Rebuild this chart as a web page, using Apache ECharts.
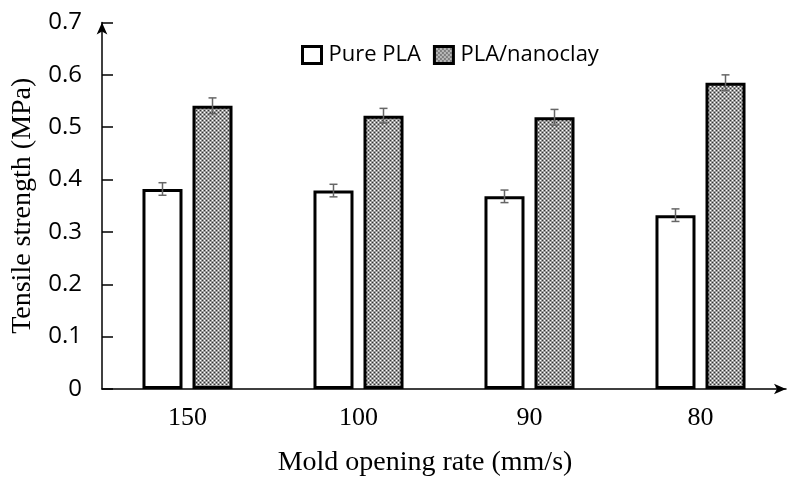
<!DOCTYPE html>
<html>
<head>
<meta charset="utf-8">
<script src="https://cdn.jsdelivr.net/npm/echarts@6/dist/echarts.min.js"></script>
<style>html,body{margin:0;padding:0;background:#fff;}#c{width:795px;height:483px;}</style>
</head>
<body>
<div id="c"></div>
<script>
var categories = ['150', '100', '90', '80'];
var pureValues = [0.382, 0.379, 0.368, 0.332];
var nanoValues = [0.541, 0.522, 0.519, 0.585];
var pureErr = [0.012, 0.012, 0.012, 0.012];
var nanoErr = [0.015, 0.014, 0.015, 0.015];
var seriesNames = ['Pure PLA', 'PLA/nanoclay'];
var yTicks = [0, 0.1, 0.2, 0.3, 0.4, 0.5, 0.6, 0.7];

function makePattern() {
  var c = document.createElement('canvas');
  c.width = 4; c.height = 4;
  var ctx = c.getContext('2d');
  ctx.fillStyle = '#9c9c9c';
  ctx.fillRect(0, 0, 4, 4);
  ctx.fillStyle = '#ffffff';
  ctx.fillRect(0, 0, 1, 1);
  ctx.fillRect(2, 2, 1, 1);
  ctx.fillStyle = '#333333';
  ctx.fillRect(2, 0, 1, 1);
  ctx.fillRect(0, 2, 1, 1);
  return c;
}
var pattern = { image: makePattern(), repeat: 'repeat' };

var BAR_W = 0.234, BAR_GAP = 0.25;
function errSeries(vals, errs, sign) {
  var data = vals.map(function (v, i) { return [i, v, errs[i]]; });
  return {
    type: 'custom',
    silent: true,
    z: 10,
    data: data,
    renderItem: function (params, api) {
      var i = api.value(0), v = api.value(1), e = api.value(2);
      var band = api.size([1, 0])[0];
      var w = band * BAR_W;
      var off = sign * (w + w * BAR_GAP) / 2;
      var top = api.coord([i, v + e]);
      var bot = api.coord([i, v - e]);
      var x = top[0] + off;
      var cap = 4;
      var st = { stroke: '#666666', lineWidth: 1.5 };
      return {
        type: 'group',
        children: [
          { type: 'line', shape: { x1: x, y1: top[1], x2: x, y2: bot[1] }, style: st },
          { type: 'line', shape: { x1: x - cap, y1: top[1], x2: x + cap, y2: top[1] }, style: st },
          { type: 'line', shape: { x1: x - cap, y1: bot[1], x2: x + cap, y2: bot[1] }, style: st }
        ]
      };
    }
  };
}

var chart = echarts.init(document.getElementById('c'));
chart.setOption({
  animation: false,
  backgroundColor: '#ffffff',
  grid: { left: 102, right: 9, top: 22.5, bottom: 94, containLabel: false, outerBoundsMode: 'none' },
  legend: {
    data: seriesNames,
    left: 296, top: 39,
    icon: 'rect',
    itemWidth: 19, itemHeight: 17,
    itemGap: 12,
    itemStyle: { borderWidth: 3, borderColor: '#000' },
    textStyle: { fontFamily: 'Open Sans', fontSize: 22, color: '#000', padding: [0, 0, 0, 2] }
  },
  xAxis: {
    type: 'category',
    data: categories,
    name: 'Mold opening rate (mm/s)',
    nameLocation: 'middle',
    nameGap: 60,
    nameTextStyle: { fontFamily: 'Liberation Serif', fontSize: 28, color: '#000', padding: [0, 38, 0, 0] },
    axisLine: { lineStyle: { color: '#000', width: 1.5 }, symbol: ['none', 'arrow'], symbolSize: [8, 12] },
    axisTick: { show: false },
    axisLabel: { fontFamily: 'Liberation Serif', fontSize: 26, color: '#000', margin: 16 }
  },
  yAxis: {
    type: 'value',
    min: 0, max: 0.7, interval: 0.1,
    name: 'Tensile strength (MPa)',
    nameLocation: 'middle',
    nameGap: 65,
    nameTextStyle: { fontFamily: 'Liberation Serif', fontSize: 28, color: '#000' },
    axisLine: { show: true, lineStyle: { color: '#000', width: 1.5 }, symbol: ['none', 'arrow'], symbolSize: [8, 12] },
    axisTick: { show: true, inside: true, length: 11, lineStyle: { color: '#000', width: 1.5 } },
    splitLine: { show: false },
    axisLabel: {
      fontFamily: 'Open Sans', fontSize: 24, color: '#000', margin: 20,
      formatter: function (v) {
        for (var k = 0; k < yTicks.length; k++) {
          if (Math.abs(yTicks[k] - v) < 1e-9) return String(yTicks[k]);
        }
        return '';
      }
    }
  },
  series: [
    {
      name: seriesNames[0], type: 'bar', data: pureValues,
      barWidth: (BAR_W * 100) + '%', barGap: (BAR_GAP * 100) + '%',
      itemStyle: { color: '#ffffff', borderColor: '#000', borderWidth: 3 }
    },
    {
      name: seriesNames[1], type: 'bar', data: nanoValues,
      barWidth: (BAR_W * 100) + '%', barGap: (BAR_GAP * 100) + '%',
      itemStyle: { color: pattern, borderColor: '#000', borderWidth: 3 }
    },
    errSeries(pureValues, pureErr, -1),
    errSeries(nanoValues, nanoErr, 1)
  ]
});
</script>
</body>
</html>
